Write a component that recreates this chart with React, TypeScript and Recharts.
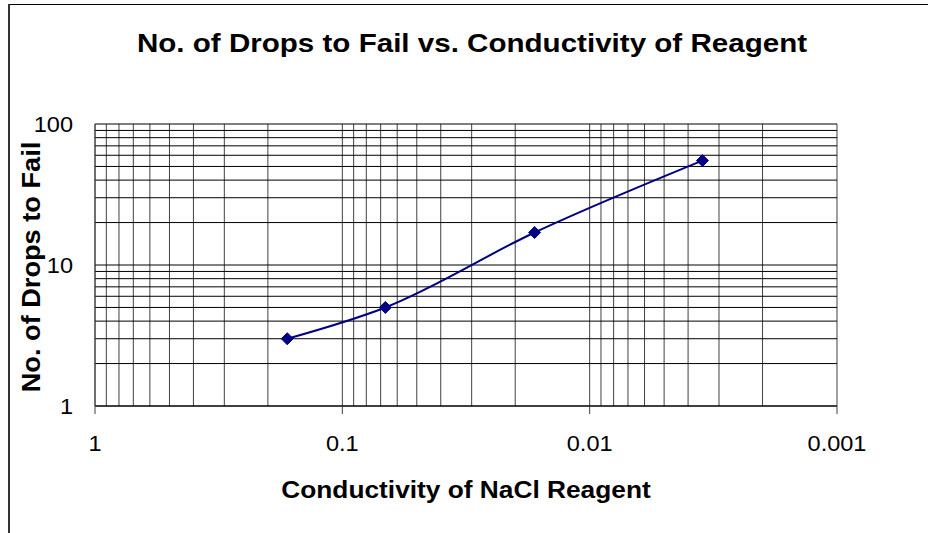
import React from 'react';
import { LineChart, Line, XAxis, YAxis, CartesianGrid } from 'recharts';

// values
const conductivity = [0.167, 0.067, 0.0167, 0.0035];
const drops = [3, 5, 17, 55];

const xTicks = [1, 0.1, 0.01, 0.001];
const yTicks = [1, 10, 100];

const chartData = conductivity.map((c, i) => ({ conductivity: c, drops: drops[i] }));

// minor grid lines: 1..9 inside each decade
const decadeLines = (decades: number[]) =>
  decades.flatMap((d) => [1, 2, 3, 4, 5, 6, 7, 8, 9].map((m) => m * d));

const xGrid = [...decadeLines([0.001, 0.01, 0.1]), 1];
const yGrid = [...decadeLines([1, 10]), 100];

const FONT = 'Arial, "Liberation Sans", sans-serif';

const Diamond: React.FC<any> = ({ cx, cy }) => {
  if (cx == null || cy == null) return null;
  const r = 6;
  return (
    <polygon
      points={`${cx},${cy - r} ${cx + r},${cy} ${cx},${cy + r} ${cx - r},${cy}`}
      fill="#000080"
      stroke="#000080"
    />
  );
};

// tick text, slightly widened like the original Excel rendering
const WideTick: React.FC<any> = ({ x, y, payload, textAnchor, verticalAnchor }) => {
  const dy = verticalAnchor === 'start' ? '0.71em' : '0.355em';
  return (
    <g transform={`translate(${x},${y}) scale(1.07,1)`}>
      <text x={0} y={0} dy={dy} textAnchor={textAnchor} fill="#000" fontSize={22} fontFamily={FONT}>
        {String(payload.value)}
      </text>
    </g>
  );
};

const App: React.FC = () => {
  return (
    <div style={{ position: 'relative', width: 928, height: 533, background: '#fff', fontFamily: FONT }}>
      <style>{`body{margin:0}`}</style>
      {/* chart area frame */}
      <div style={{ position: 'absolute', left: 8, top: 4, width: 920, height: 1, background: '#000' }} />
      <div style={{ position: 'absolute', left: 8, top: 4, width: 2, height: 529, background: '#333' }} />

      <div
        style={{
          position: 'absolute', left: 0, width: 944, top: 27, textAlign: 'center',
          fontSize: 26, fontWeight: 'bold', color: '#000', lineHeight: '32px',
          transform: 'scaleX(1.137)', transformOrigin: '472px 50%',
        }}
      >
        No. of Drops to Fail vs. Conductivity of Reagent
      </div>

      <LineChart
        width={928}
        height={533}
        data={chartData}
        margin={{ top: 124, right: 91, bottom: 0, left: 0 }}
        style={{ position: 'absolute', left: 0, top: 0 }}
      >
        <CartesianGrid horizontal={false} verticalValues={xGrid} stroke="#404040" strokeWidth={1} />
        <CartesianGrid vertical={false} horizontalValues={yGrid} stroke="#000" strokeWidth={1} />
        <XAxis
          dataKey="conductivity"
          type="number"
          scale="log"
          domain={[0.001, 1]}
          reversed
          allowDataOverflow
          ticks={xTicks}
          height={127}
          tickSize={8}
          tickMargin={21}
          axisLine={{ stroke: '#000' }}
          tickLine={{ stroke: '#404040' }}
          tick={<WideTick />}
          interval={0}
        />
        <YAxis
          dataKey="drops"
          type="number"
          scale="log"
          domain={[1, 100]}
          allowDataOverflow
          ticks={yTicks}
          width={95}
          tickSize={0}
          tickMargin={22}
          axisLine={{ stroke: '#404040' }}
          tick={<WideTick />}
          interval={0}
        />
        <Line
          type="monotone"
          dataKey="drops"
          stroke="#000080"
          strokeWidth={2}
          dot={<Diamond />}
          activeDot={false}
          isAnimationActive={false}
        />
      </LineChart>

      <div
        style={{
          position: 'absolute', left: 0, width: 932, top: 475, textAlign: 'center',
          fontSize: 24, fontWeight: 'bold', color: '#000', lineHeight: '30px',
          transform: 'scaleX(1.095)', transformOrigin: '466px 50%',
        }}
      >
        Conductivity of NaCl Reagent
      </div>
      <div style={{ position: 'absolute', left: 31, top: 267, width: 0, height: 0 }}>
        <div
          style={{
            position: 'absolute', left: -200, top: -16, width: 400, textAlign: 'center',
            fontSize: 26, fontWeight: 'bold', color: '#000', lineHeight: '32px',
            transform: 'rotate(-90deg) scaleX(1.045)', whiteSpace: 'nowrap',
          }}
        >
          No. of Drops to Fail
        </div>
      </div>
    </div>
  );
};

export default App;
